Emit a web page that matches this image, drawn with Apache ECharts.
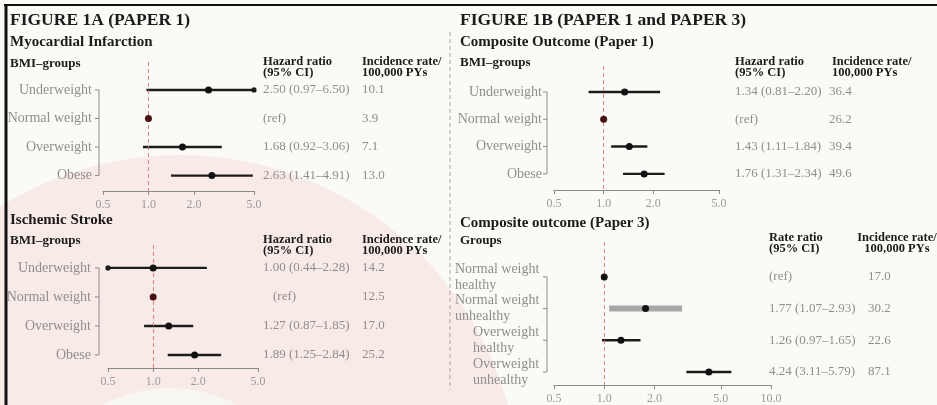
<!DOCTYPE html>
<html>
<head>
<meta charset="utf-8">
<script src="https://cdn.jsdelivr.net/npm/echarts@6/dist/echarts.min.js"></script>
<style>
  html, body { margin: 0; padding: 0; background: #fafaf6; }
  #chart { width: 937px; height: 405px; }
</style>
</head>
<body>
<div id="chart"></div>
<script>
// ---- Data -------------------------------------------------------------
const bmiGroups = ['Underweight', 'Normal weight', 'Overweight', 'Obese'];

// Myocardial infarction (Paper 1)
const miHR = [2.50, 1.00, 1.68, 2.63];
const miLow = [0.97, null, 0.92, 1.41];
const miHigh = [6.50, null, 3.06, 4.91];
const miIncidence = [10.1, 3.9, 7.1, 13.0];

// Ischemic stroke (Paper 1)
const strokeHR = [1.00, 1.00, 1.27, 1.89];
const strokeLow = [0.44, null, 0.87, 1.25];
const strokeHigh = [2.28, null, 1.85, 2.84];
const strokeIncidence = [14.2, 12.5, 17.0, 25.2];

// Composite outcome (Paper 1)
const compositeHR = [1.34, 1.00, 1.43, 1.76];
const compositeLow = [0.81, null, 1.11, 1.31];
const compositeHigh = [2.20, null, 1.84, 2.34];
const compositeIncidence = [36.4, 26.2, 39.4, 49.6];

// Composite outcome by weight and metabolic health (Paper 3)
const healthGroups = ['Normal weight\nhealthy', 'Normal weight\nunhealthy', 'Overweight\nhealthy', 'Overweight\nunhealthy'];
const healthRR = [1.00, 1.77, 1.26, 4.24];
const healthLow = [null, 1.07, 0.97, 3.11];
const healthHigh = [null, 2.93, 1.65, 5.79];
const healthIncidence = [17.0, 30.2, 22.6, 87.1];

// Axis tick labels (ratio scale)
const ticksShort = [0.5, 1.0, 2.0, 5.0];
const ticksLong = [0.5, 1.0, 2.0, 5.0, 10.0];

// ---- Styling ----------------------------------------------------------
const FONT = 'Liberation Serif';
const GREY_TEXT = '#8e8e8e';
const DARK = '#1b1b1b';
const REF_DOT = '#4a1010';

const panels = [
  { groups: bmiGroups, est: miHR, low: miLow, high: miHigh, inc: miIncidence, ticks: ticksShort,
    left: 103, right: 254, top: 62, axis: 191, yMin: -0.98, yMax: 3.54,
    bracketGap: 4, labelGap: 7, hrGap: 9, incGap: 108, refIndent: 0 },
  { groups: bmiGroups, est: strokeHR, low: strokeLow, high: strokeHigh, inc: strokeIncidence, ticks: ticksShort,
    left: 108, right: 258, top: 245, axis: 368, yMin: -0.79, yMax: 3.45,
    bracketGap: 9, labelGap: 8, hrGap: 5, incGap: 104, refIndent: 10 },
  { groups: bmiGroups, est: compositeHR, low: compositeLow, high: compositeHigh, inc: compositeIncidence, ticks: ticksShort,
    left: 554, right: 719, top: 66, axis: 190, yMin: -0.95, yMax: 3.59,
    bracketGap: 7, labelGap: 5, hrGap: 16, incGap: 110, refIndent: 0 },
  { groups: healthGroups, est: healthRR, low: healthLow, high: healthHigh, inc: healthIncidence, ticks: ticksLong,
    left: 554, right: 771, top: 242, axis: 385, yMin: -1.10, yMax: 3.41,
    bracketGap: 7, labelGap: 7, hrGap: -2, incGap: 97, refIndent: 0,
    shadedRow: 1, blockLabels: true }
];

const log2 = v => Math.log(v) / Math.LN2;
const fmt2 = v => v.toFixed(2);

// width of a text line, for left-aligned multi-line group labels
const measureCtx = document.createElement('canvas').getContext('2d');
measureCtx.font = '14px "' + FONT + '"';
const textWidth = s => Math.ceil(measureCtx.measureText(s).width);

// ---- Renderers --------------------------------------------------------
function renderInterval(params, api) {
  const cs = params.coordSys;
  const row = api.value(0);
  const a = api.coord([api.value(1), row]);
  const b = api.coord([api.value(2), row]);
  const shaded = api.value(3) === 1;
  const xL = Math.max(a[0], cs.x);
  const xR = Math.min(b[0], cs.x + cs.width);
  const stroke = shaded ? '#a7a7a7' : '#1c1c1c';
  const children = [{
    type: 'line',
    shape: { x1: xL, y1: a[1], x2: xR, y2: a[1] },
    style: { stroke: stroke, lineWidth: shaded ? 6 : 2.4 }
  }];
  if (a[0] < cs.x) children.push({ type: 'circle', shape: { cx: xL, cy: a[1], r: 2.6 }, style: { fill: '#1c1c1c' } });
  if (b[0] > cs.x + cs.width) children.push({ type: 'circle', shape: { cx: xR, cy: b[1], r: 2.6 }, style: { fill: '#1c1c1c' } });
  return { type: 'group', children: children };
}

function bracketRenderer(gap, n) {
  return function (params, api) {
    const cs = params.coordSys;
    const x = cs.x - gap;
    const ys = [];
    for (let i = 0; i < n; i++) ys.push(api.coord([api.value(0), i])[1]);
    const style = { stroke: '#8a8a8a', lineWidth: 1 };
    const children = [{ type: 'line', shape: { x1: x, y1: ys[0], x2: x, y2: ys[n - 1] }, style: style }];
    ys.forEach(y => children.push({ type: 'line', shape: { x1: x - 4, y1: y, x2: x, y2: y }, style: style }));
    return { type: 'group', children: children };
  };
}

// ---- Build option -----------------------------------------------------
const grid = [], xAxis = [], yAxis = [], series = [];

panels.forEach((p, i) => {
  const n = p.groups.length;
  const rows = p.groups.map((_, r) => r);
  const xMin = log2(p.ticks[0]);
  const xMax = log2(p.ticks[p.ticks.length - 1]);
  const isRef = r => p.low[r] === null;

  grid.push({ left: p.left, top: p.top, width: p.right - p.left, height: p.axis - p.top,
              containLabel: false, outerBoundsMode: 'none' });

  xAxis.push({
    gridIndex: i, type: 'value', min: xMin, max: xMax, position: 'bottom',
    splitLine: { show: false },
    axisLine: { show: true, onZero: false, lineStyle: { color: '#8a8a8a', width: 1 } },
    axisTick: { show: true, length: 4, customValues: p.ticks.map(log2), lineStyle: { color: '#8a8a8a' } },
    axisLabel: {
      customValues: p.ticks.map(log2), margin: 8, interval: 0,
      color: '#9a9a9a', fontFamily: FONT, fontSize: 12,
      formatter: v => Math.pow(2, v).toFixed(1)
    }
  });

  // group labels on the left; two-line labels are split over two axes
  // (alternate rows) so neighbouring blocks are never dropped
  const rich = {};
  if (p.blockLabels) {
    p.groups.forEach((g, r) => {
      rich['g' + r] = { width: Math.max(...g.split('\n').map(textWidth)), align: 'left',
                        color: GREY_TEXT, fontFamily: FONT, fontSize: 14, lineHeight: 16 };
    });
  }
  const yBase = { gridIndex: i, type: 'value', inverse: true, min: p.yMin, max: p.yMax,
                  splitLine: { show: false }, axisLine: { show: false, onZero: false }, axisTick: { show: false } };
  const labelBase = { interval: 0, showMinLabel: true, showMaxLabel: true, hideOverlap: false,
                      color: GREY_TEXT, fontFamily: FONT };
  const yIdx = yAxis.length;
  const labelRowSets = p.blockLabels ? [rows.filter(r => r % 2 === 0), rows.filter(r => r % 2 === 1)] : [rows];
  labelRowSets.forEach(set => {
    yAxis.push(Object.assign({}, yBase, {
      position: 'left', offset: p.bracketGap,
      axisLabel: Object.assign({}, labelBase, {
        customValues: set, margin: p.labelGap, fontSize: 14, lineHeight: 16, rich: rich,
        formatter: v => {
          const r = Math.round(v);
          const g = p.groups[r];
          if (!p.blockLabels) return g;
          return g.split('\n').map(l => '{g' + r + '|' + l + '}').join('\n');
        }
      })
    }));
  });
  // ratio with confidence interval
  yAxis.push(Object.assign({}, yBase, {
    position: 'right',
    axisLabel: Object.assign({}, labelBase, {
      customValues: rows, margin: p.hrGap, align: 'left', fontSize: 13,
      rich: { ref: { padding: [0, 0, 0, p.refIndent], color: GREY_TEXT, fontFamily: FONT, fontSize: 13 } },
      formatter: v => {
        const r = Math.round(v);
        if (isRef(r)) return '{ref|(ref)}';
        return fmt2(p.est[r]) + ' (' + fmt2(p.low[r]) + '\u2013' + fmt2(p.high[r]) + ')';
      }
    })
  }));
  // incidence rate per 100,000 person-years
  yAxis.push(Object.assign({}, yBase, {
    position: 'right',
    axisLabel: Object.assign({}, labelBase, {
      customValues: rows, margin: p.incGap, align: 'left', fontSize: 13,
      formatter: v => p.inc[Math.round(v)].toFixed(1)
    })
  }));

  // bracket joining the group ticks
  series.push({
    type: 'custom', xAxisIndex: i, yAxisIndex: yIdx, clip: false, silent: true, z: 1,
    renderItem: bracketRenderer(p.bracketGap, n),
    data: [[xMin]]
  });

  // confidence intervals
  series.push({
    type: 'custom', xAxisIndex: i, yAxisIndex: yIdx, clip: false, silent: true, z: 2,
    renderItem: renderInterval,
    data: rows.filter(r => !isRef(r)).map(r => [r, log2(p.low[r]), log2(p.high[r]), p.shadedRow === r ? 1 : 0])
  });

  // point estimates + reference line at 1.0
  series.push({
    type: 'scatter', xAxisIndex: i, yAxisIndex: yIdx, symbol: 'circle', symbolSize: 7, z: 4, silent: true,
    itemStyle: { color: '#111', opacity: 1 },
    data: rows.map(r => ({
      value: [log2(p.est[r]), r],
      itemStyle: isRef(r) && i !== 3 ? { color: REF_DOT } : undefined
    })),
    markLine: {
      silent: true, symbol: ['none', 'none'], label: { show: false },
      lineStyle: { color: '#e26b6b', type: [4, 3], width: 1, opacity: 0.85 },
      data: [{ xAxis: 0 }],
      z: 3
    }
  });
});

// ---- Headings and frame ----------------------------------------------
function heading(text, x, y, size, extra) {
  return Object.assign({
    type: 'text', x: x, y: y, z: 10, silent: true,
    style: Object.assign({
      text: text, fill: DARK, font: 'bold ' + size + 'px "' + FONT + '"',
      textVerticalAlign: 'middle', textAlign: 'left', lineHeight: 11
    }, extra || {})
  });
}

const graphic = [
  { type: 'circle', shape: { cx: 180, cy: 495, r: 340 }, style: { fill: '#f8ebe7' }, z: -20, silent: true },
  { type: 'circle', shape: { cx: 170, cy: 532, r: 144 }, style: { fill: '#f8f6f1' }, z: -19, silent: true },
  { type: 'line', shape: { x1: 4, y1: 5, x2: 937, y2: 5 }, style: { stroke: '#111', lineWidth: 2 }, z: 10, silent: true },
  { type: 'line', shape: { x1: 6, y1: 4, x2: 6, y2: 405 }, style: { stroke: '#111', lineWidth: 3 }, z: 10, silent: true },
  { type: 'line', shape: { x1: 450, y1: 32, x2: 450, y2: 390 }, style: { stroke: '#a8a8a8', lineWidth: 1, lineDash: [4, 3] }, z: 10, silent: true },

  heading('FIGURE 1A (PAPER 1)', 10, 20, 17.5),
  heading('Myocardial Infarction', 10, 42, 15),
  heading('BMI\u2013groups', 10, 64, 13),
  heading('Hazard ratio\n(95% CI)', 263, 67, 12.5),
  heading('Incidence rate/\n100,000 PYs', 362, 67, 12.5),

  heading('Ischemic Stroke', 10, 220, 15),
  heading('BMI\u2013groups', 10, 241, 13),
  heading('Hazard ratio\n(95% CI)', 263, 245, 12.5),
  heading('Incidence rate/\n100,000 PYs', 362, 245, 12.5),

  heading('FIGURE 1B (PAPER 1 and PAPER 3)', 460, 20, 17.5),
  heading('Composite Outcome (Paper 1)', 460, 42, 15),
  heading('BMI\u2013groups', 460, 63, 13),
  heading('Hazard ratio\n(95% CI)', 735, 67, 12.5),
  heading('Incidence rate/\n100,000 PYs', 832, 67, 12.5),

  heading('Composite outcome (Paper 3)', 460, 223, 15),
  heading('Groups', 460, 241, 13),
  heading('Rate ratio\n(95% CI)', 769, 243, 12.5),
  heading('Incidence rate/\n100,000 PYs', 897, 243, 12.5, { textAlign: 'center' })
];

const chart = echarts.init(document.getElementById('chart'), null, { renderer: 'canvas' });
chart.setOption({
  backgroundColor: '#fafaf6',
  animation: false,
  textStyle: { fontFamily: FONT },
  grid: grid,
  xAxis: xAxis,
  yAxis: yAxis,
  series: series,
  graphic: graphic
});
</script>
</body>
</html>
